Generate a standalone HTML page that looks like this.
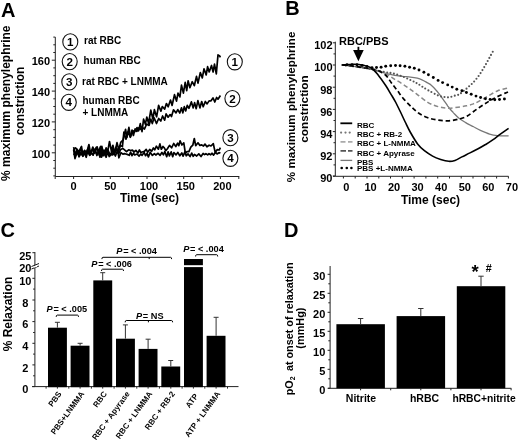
<!DOCTYPE html>
<html><head><meta charset="utf-8"><style>
html,body{margin:0;padding:0;background:#fff;}
svg{display:block;will-change:transform;}
text{font-family:"Liberation Sans",sans-serif;font-weight:bold;fill:#000;}
.ax{fill:none;stroke:#222;stroke-width:1;}
.tk{fill:none;stroke:#222;stroke-width:1;}
.circ{fill:none;stroke:#111;stroke-width:1.1;}
.trace path{fill:none;stroke:#000;stroke-width:1.7;stroke-linejoin:round;}
</style></head><body>
<svg width="520" height="442" viewBox="0 0 520 442">
<rect width="520" height="442" fill="#fff"/>
<text x="1" y="16.6" font-size="20">A</text>
<path d="M55.3,37.1 V176.5 H239.3" class="ax"/>
<path d="M55.3,175.9 h-2 M55.3,168.2 h-2 M55.3,160.5 h-2 M55.3,152.8 h-3.5 M55.3,145.1 h-2 M55.3,137.4 h-2 M55.3,129.7 h-2 M55.3,121.9 h-3.5 M55.3,114.2 h-2 M55.3,106.5 h-2 M55.3,98.8 h-2 M55.3,91.1 h-3.5 M55.3,83.4 h-2 M55.3,75.7 h-2 M55.3,67.9 h-2 M55.3,60.2 h-3.5 M55.3,52.5 h-2 M55.3,44.8 h-2 M55.3,37.1 h-2 M55.2,176.5 v2.5 M73.6,176.5 v2.5 M91.9,176.5 v2.5 M110.3,176.5 v2.5 M128.6,176.5 v2.5 M147,176.5 v2.5 M165.3,176.5 v2.5 M183.7,176.5 v2.5 M202,176.5 v2.5 M220.4,176.5 v2.5 M238.8,176.5 v2.5" class="tk"/>
<text x="50" y="157.6" font-size="11" text-anchor="end">100</text>
<text x="50" y="126.7" font-size="11" text-anchor="end">120</text>
<text x="50" y="95.9" font-size="11" text-anchor="end">140</text>
<text x="50" y="65" font-size="11" text-anchor="end">160</text>
<text x="73.6" y="189.9" font-size="11" text-anchor="middle">0</text>
<text x="110.3" y="189.9" font-size="11" text-anchor="middle">50</text>
<text x="149" y="189.9" font-size="11" text-anchor="middle">100</text>
<text x="185.7" y="189.9" font-size="11" text-anchor="middle">150</text>
<text x="222.4" y="189.9" font-size="11" text-anchor="middle">200</text>
<text x="149.5" y="201.5" font-size="12" text-anchor="middle">Time (sec)</text>
<text transform="translate(10,103.2) rotate(-90)" font-size="12" text-anchor="middle">% maximum phenylephrine</text>
<text transform="translate(24,101) rotate(-90)" font-size="12" text-anchor="middle">constriction</text>
<ellipse cx="70.3" cy="41.9" rx="7.5" ry="8.1" class="circ"/>
<text x="70.3" y="46" font-size="11.6" text-anchor="middle">1</text>
<ellipse cx="69.7" cy="61.6" rx="7.5" ry="8.1" class="circ"/>
<text x="69.7" y="65.7" font-size="11.6" text-anchor="middle">2</text>
<ellipse cx="69.3" cy="81.9" rx="7.5" ry="8.1" class="circ"/>
<text x="69.3" y="86" font-size="11.6" text-anchor="middle">3</text>
<ellipse cx="68.8" cy="102.3" rx="7.5" ry="8.1" class="circ"/>
<text x="68.8" y="106.4" font-size="11.6" text-anchor="middle">4</text>
<text x="84" y="44" font-size="10">rat RBC</text>
<text x="83.6" y="63.8" font-size="10">human RBC</text>
<text x="82" y="85" font-size="10">rat RBC + LNMMA</text>
<text x="82.5" y="103.5" font-size="10">human RBC</text>
<text x="82.5" y="116.1" font-size="10">+ LNMMA</text>
<ellipse cx="234.8" cy="61.8" rx="7.5" ry="8.1" class="circ"/>
<text x="234.8" y="65.9" font-size="11.6" text-anchor="middle">1</text>
<ellipse cx="232.4" cy="98.6" rx="7.5" ry="8.1" class="circ"/>
<text x="232.4" y="102.7" font-size="11.6" text-anchor="middle">2</text>
<ellipse cx="230.4" cy="137.7" rx="7.5" ry="8.1" class="circ"/>
<text x="230.4" y="141.8" font-size="11.6" text-anchor="middle">3</text>
<ellipse cx="230.4" cy="158.3" rx="7.5" ry="8.1" class="circ"/>
<text x="230.4" y="162.4" font-size="11.6" text-anchor="middle">4</text>
<g class="trace">
<path d="M73.6,153.5 L75.3,156 L76.9,149.4 L79,156.7 L80.5,153.8 L81.9,154.6 L84,151.2 L85.6,155.6 L87.7,151.2 L89.6,155 L91,152.8 L93.2,154.4 L94.8,150.1 L97,154.4 L98.6,151.7 L100,157.2 L101.3,153.5 L102.8,155.6 L104.4,150.6 L106.1,157.3 L107.6,152.1 L109.2,156.5 L110.5,154.3 L112.6,154.9 L114.2,153.4 L115.4,156 L117.7,150.2 L118.9,157.8 L121,152.7 L122.9,154.2 L124.3,153.6 L125.9,154 L127.2,154.4 L129.3,155.3 L130.6,152.1 L132,155.7 L133.5,153.1 L134.7,155 L137,154 L139.1,156.1 L140.8,153.9 L142.1,155.3 L144.2,152.5 L145.5,155.7 L147,153.4 L148.4,156.9 L150.2,152.2 L152.4,155.4 L154.4,153.7 L155.8,155 L158.1,153.3 L160.1,155.3 L161.9,152.5 L163.4,154.8 L164.8,151.5 L166.7,156.7 L168.1,151.8 L169.4,156 L171.2,151.9 L172.7,156.7 L173.9,152.5 L176,154.9 L177.8,152.4 L179.8,155.8 L181.8,152.9 L183.1,156.1 L184.8,152 L186.2,155.8 L188,153.9 L190.1,156.5 L191.7,153.1 L193.2,156.3 L194.5,154.4 L196.7,156 L198.8,153.9 L201,156.5 L203.1,153.5 L204.5,154.6 L205.9,153.7 L207.7,154.9 L209,153.7 L210.7,154.8 L212,153.2 L213.6,155.1 L215.5,152.3 L217.1,153.9 L219.3,152.6 L220.4,153.3"/>
<path d="M73.6,150.3 L75.5,147.9 L77,149.3 L79.1,153.5 L81,147.8 L82.9,155.4 L84.5,150.4 L86.5,152.1 L88.1,148.2 L90.3,153.9 L92.6,149.2 L94.3,153.2 L96.2,147.3 L98.3,151.5 L100.5,146.5 L102.4,154.9 L104,150.2 L105.3,151.7 L106.8,151.2 L108.5,152.8 L110,155 L111.9,154.2 L113.8,151.5 L115.3,152 L117,148.8 L118.9,153.4 L120.6,149.6 L122.8,148.4 L125.1,150.4 L126.5,151.7 L128.7,149.8 L130.5,150.5 L132.4,150.1 L133.9,152 L135.9,150.3 L137.9,153.1 L139.4,149.9 L140.7,152.4 L142.2,152 L144.4,151.4 L146.2,149.4 L147.6,152.2 L149.7,149.5 L151.7,151.2 L153.4,147.9 L154.7,149.9 L156.4,146.2 L158.4,149.2 L159.9,143.9 L161.3,149.2 L163,146.5 L164.3,147.9 L165.8,150.6 L167.4,148.7 L169.5,145.4 L171.6,147.8 L173.7,143.5 L175.8,146.5 L177.6,143.2 L178.8,145.7 L180.1,140.8 L181.9,145 L183.8,142.9 L185.4,153.5 L187,151.5 L188.9,151.6 L190.8,147.2 L192.8,145.2 L194.3,138.5 L195.7,145.7 L198,142.8 L199.9,145.4 L201.7,144.9 L203.5,146 L205,144.1 L206.9,146.8 L209.1,145.2 L211,146 L213.3,143.7 L215.2,152.4 L217.3,149.6 L219.2,150 L220.4,147.6"/>
<path d="M73.6,149.6 L75,158.6 L77.2,151.9 L79.2,156.5 L80.7,152.1 L82.9,156.3 L84.8,152.2 L86.2,157.3 L87.9,150.6 L89.9,155.3 L91.2,152.6 L93.1,155.2 L94.7,149.3 L96.9,155.5 L99.1,150 L101.5,157.1 L103.7,150.7 L105.6,154.4 L107.9,149.9 L110.3,155.5 L112.6,149.3 L114.2,154.5 L115.8,147.4 L118.1,152.8 L120.3,145.6 L122.4,146.6 L123.9,132.1 L126,139.2 L128.2,131.6 L130.3,137.3 L132,130.2 L133.4,135.5 L135.1,128.9 L136.9,131.4 L138.6,127.9 L140.1,129.4 L142.2,127.5 L144.5,129 L146.6,124.1 L149.1,125.4 L150.8,119.1 L152.3,123.6 L154.1,117.8 L156.5,123.5 L158.7,118.5 L160.8,121 L162.6,116 L164.6,120.2 L166.1,113.9 L168.1,117.2 L170.1,114.6 L171.5,116.6 L173.5,109.8 L176,112.9 L177.8,109.6 L179.8,113 L181.5,107.8 L182.8,112.9 L184.3,106.7 L185.7,110.9 L187.3,105.3 L189,108.3 L191.4,101.9 L193.2,107.9 L194.6,102.6 L196.2,108.7 L197.9,100.6 L199.9,107.9 L201.7,101.6 L203.2,106.8 L205.3,101.5 L207.1,103.9 L209.1,100.9 L210.8,101 L213,97.9 L214.8,102 L216.6,97.5 L218,99.2 L220.4,95.5"/>
<path d="M73.6,147.1 L75.2,153.7 L77.5,150.2 L79.3,151.1 L81.5,146.4 L82.8,155.7 L84.6,151.5 L86.8,152.5 L88.9,144.5 L90.7,154 L92.8,147.1 L95.2,152.2 L97.1,146.8 L99.5,155.5 L101.8,146.3 L103.9,155.7 L106.1,147.9 L107.6,152.2 L109.5,141.5 L111.5,151.5 L112.9,145.3 L114.7,153.4 L117,142.6 L118.8,150 L120.7,142.4 L123.2,139.9 L125.6,129.3 L126.9,137.4 L128.9,127.4 L130.5,136.8 L132.9,130.7 L134.7,131.8 L137,127.6 L138.6,130.8 L140.3,123.6 L142,131.6 L143.6,119.2 L145.4,124.2 L146.8,117.1 L148.6,123.2 L150.8,110.1 L152.9,119 L154.4,109.7 L156.6,116.8 L158.6,105.4 L160.9,111.2 L162.3,106.5 L164.7,109.1 L166.4,103.5 L168.2,106.8 L170.5,100 L172.1,105.4 L174.5,94.7 L176.5,101.1 L178,93.1 L179.9,96.9 L181.5,85.1 L183.4,93.1 L185.2,82.4 L186.7,90.6 L188.1,80.8 L189.9,87.7 L192.2,81.7 L194.3,85.7 L196.5,76.4 L198,83.1 L200.3,72.6 L202.3,77.9 L204,68.8 L206.2,74.9 L207.6,66.7 L209.2,72 L211.5,65.5 L213.1,72 L214.5,64.2 L216.3,73.9 L218,54.9 L219.7,56 L220.4,57.4"/>
</g>
<text x="285.2" y="15.1" font-size="20">B</text>
<path d="M335.3,41.7 V176.3 H508.5" class="ax"/>
<path d="M335.3,176 h-2.5 M335.3,164.9 h-1.8 M335.3,153.8 h-2.5 M335.3,142.7 h-1.8 M335.3,131.6 h-2.5 M335.3,120.5 h-1.8 M335.3,109.4 h-2.5 M335.3,98.3 h-1.8 M335.3,87.2 h-2.5 M335.3,76.1 h-1.8 M335.3,65 h-2.5 M335.3,53.9 h-1.8 M335.3,42.8 h-2.5 M335.3,176.3 h-2.3 M343.4,176.3 v2.2 M355.2,176.3 v2.2 M367,176.3 v2.2 M378.8,176.3 v2.2 M390.5,176.3 v2.2 M402.3,176.3 v2.2 M414.1,176.3 v2.2 M425.9,176.3 v2.2 M437.7,176.3 v2.2 M449.5,176.3 v2.2 M461.2,176.3 v2.2 M473,176.3 v2.2 M484.8,176.3 v2.2 M496.6,176.3 v2.2 M508.4,176.3 v2.2" class="tk"/>
<text x="332.5" y="182.3" font-size="11" text-anchor="end">90</text>
<text x="332.5" y="160.1" font-size="11" text-anchor="end">92</text>
<text x="332.5" y="137.9" font-size="11" text-anchor="end">94</text>
<text x="332.5" y="115.7" font-size="11" text-anchor="end">96</text>
<text x="332.5" y="93.5" font-size="11" text-anchor="end">98</text>
<text x="332.5" y="71.3" font-size="11" text-anchor="end">100</text>
<text x="332.5" y="49.1" font-size="11" text-anchor="end">102</text>
<text x="346.2" y="191.2" font-size="11" text-anchor="middle">0</text>
<text x="370.5" y="191.2" font-size="11" text-anchor="middle">10</text>
<text x="394" y="191.2" font-size="11" text-anchor="middle">20</text>
<text x="417.6" y="191.2" font-size="11" text-anchor="middle">30</text>
<text x="441.2" y="191.2" font-size="11" text-anchor="middle">40</text>
<text x="464.8" y="191.2" font-size="11" text-anchor="middle">50</text>
<text x="488.3" y="191.2" font-size="11" text-anchor="middle">60</text>
<text x="511.9" y="191.2" font-size="11" text-anchor="middle">70</text>
<text x="430.5" y="204" font-size="12" text-anchor="middle">Time (sec)</text>
<text x="339" y="44.6" font-size="11">RBC/PBS</text>
<path d="M358.4,46.8 V51" stroke="#000" stroke-width="1.8"/>
<path d="M353.1,49.9 H363.7 L358.4,61.2 Z" fill="#000"/>
<path d="M342.2,65 C344.2,65.2 350.4,65.8 354,66.3 C357.6,66.8 360.9,67.3 364,67.8 C367.1,68.3 370,68.8 372.7,69.5 C375.4,70.2 377.6,71 380,71.7 C382.4,72.4 384.4,73.1 386.8,73.7 C389.2,74.3 392.1,75 394.7,75.4 C397.3,75.8 400,76 402.6,76.3 C405.2,76.6 408.1,76.8 410.5,77.1 C412.9,77.4 415.4,77.8 417.3,78.2 C419.2,78.7 420.4,79.1 422,79.8 C423.6,80.5 425.5,81.7 427,82.6 C428.5,83.5 429.6,83.8 431,85 C432.4,86.2 434.3,88.2 435.7,89.8 C437.1,91.3 438.4,92.9 439.5,94.3 C440.6,95.7 441.1,96.6 442,97.9 C442.9,99.2 444,100.6 444.9,101.9 C445.8,103.2 446.8,104.6 447.6,105.8 C448.5,107 449.1,107.9 450,109 C450.9,110.1 451.8,111 453.3,112.6 C454.8,114.1 456.9,116.6 459,118.3 C461.1,120 463.9,121.5 465.7,122.6 C467.5,123.7 468.7,124.3 470,125 C471.3,125.7 471.9,125.9 473.6,126.8 C475.3,127.7 477.7,129.2 480.4,130.4 C483.1,131.6 486.7,133.2 489.6,134.1 C492.5,135 494.5,135.3 497.7,135.6 C500.9,135.9 506.8,135.8 508.6,135.9" fill="none" stroke="#777" stroke-width="1.3"/>
<path d="M342.2,65 C344.2,65.2 350.4,65.8 354,66.3 C357.6,66.8 361,67.3 364,67.8 C367,68.3 368.6,68.8 372,69.5 C375.4,70.2 381.1,71.4 384.5,72 C387.9,72.6 389.8,72.7 392.4,73.3 C395,73.9 397.6,74.6 400.4,75.6 C403.2,76.6 406.8,78.3 409.4,79.5 C412,80.7 414.2,81.8 416.2,82.9 C418.2,84 419.5,84.9 421.6,86.2 C423.7,87.5 425.8,88.9 428.6,90.5 C431.4,92.1 435.7,94.5 438.4,95.6 C441.1,96.7 443,96.8 444.9,97.1 C446.8,97.4 447.8,97.5 449.5,97.2 C451.2,97 453.4,96 455,95.6 C456.6,95.1 457.7,95.2 459,94.5 C460.3,93.8 461.5,92.7 463,91.5 C464.5,90.3 466.2,89 467.8,87.5 C469.4,86 471.2,84.6 472.9,82.8 C474.6,81 476.4,78.9 478,76.8 C479.6,74.7 481.1,72.3 482.5,70 C483.9,67.7 485.2,65.6 486.5,63.2 C487.8,60.8 489.2,58.2 490.5,55.8 C491.8,53.4 493.8,50 494.4,48.8" fill="none" stroke="#555" stroke-width="2.1" stroke-dasharray="0 3.5" stroke-linecap="round"/>
<path d="M342.2,65 C344.2,65.2 350.4,65.8 354,66.3 C357.6,66.8 361,67.3 364,67.8 C367,68.3 368.3,68.3 372,69.3 C375.7,70.3 382.3,72.4 386,74 C389.7,75.6 391.2,77.2 394,78.9 C396.8,80.6 400.2,82.5 403,84.3 C405.8,86.1 408.3,87.9 411,89.8 C413.7,91.7 416.3,93.8 419,95.8 C421.7,97.8 424.8,100.4 427.3,102 C429.8,103.6 431.6,104.4 434,105.3 C436.4,106.2 439.5,107 442,107.5 C444.5,108 446.3,108.2 449,108.2 C451.7,108.2 455.1,107.6 458,107.2 C460.9,106.8 464.1,106.3 466.5,105.8 C468.9,105.3 470.7,104.7 472.5,104.1 C474.3,103.5 474.9,103.4 477.4,102.1 C479.9,100.8 484.2,98.3 487.6,96.4 C491,94.5 494.4,92.1 497.8,90.7 C501.2,89.3 506.3,88.4 508,87.9" fill="none" stroke="#888" stroke-width="1.5" stroke-dasharray="4.5 2.8"/>
<path d="M342.2,65 C344.2,65.2 350.4,65.8 354,66.3 C357.6,66.8 361,67.3 364,67.8 C367,68.2 369.7,68.5 372,69 C374.3,69.5 375.7,69.4 378,70.5 C380.3,71.6 383.8,73.5 386,75.5 C388.2,77.5 389.5,80.3 391.3,82.7 C393.1,85.1 394.9,87.4 397,90.1 C399.1,92.8 401.3,96.2 403.8,99.1 C406.3,102 409.6,105.2 412,107.5 C414.4,109.8 416,111.3 418.5,113 C421,114.7 424.1,116.3 427.2,117.5 C430.3,118.7 433.8,119.5 437.4,120 C441,120.5 445.2,121 449,120.8 C452.8,120.6 456.9,119.6 460,118.8 C463.1,118 464.4,117.7 467.3,116 C470.2,114.3 474,111.1 477.4,108.8 C480.8,106.5 484.4,104.1 487.6,102.1 C490.8,100.1 493.3,98.7 496.7,97 C500.1,95.3 506.1,92.8 508,91.9" fill="none" stroke="#000" stroke-width="1.7" stroke-dasharray="4.5 2.8"/>
<path d="M342.2,64.9 C344.2,64.8 350.4,64.1 354,64.2 C357.6,64.3 360.9,64.8 363.8,65.4 C366.7,66 369,66.4 371.4,68 C373.8,69.6 375.7,72 378.1,74.9 C380.5,77.8 383.5,82.2 385.7,85.5 C387.9,88.8 389.6,92 391.3,94.8 C393,97.6 394.4,99.8 395.8,102.5 C397.2,105.2 398.4,107.8 400,111 C401.6,114.2 403.5,118.5 405.2,122 C406.9,125.5 408.1,128.3 410.2,132 C412.3,135.7 415.2,140.8 417.6,143.9 C420,147 421.9,148.7 424.4,150.7 C426.9,152.7 429.9,154.6 432.6,156.1 C435.3,157.6 438,158.6 440.7,159.5 C443.4,160.4 446.4,161.2 448.8,161.3 C451.2,161.5 452.8,161.1 455,160.4 C457.2,159.7 459.4,158.2 461.9,156.9 C464.4,155.7 467.3,154.2 470,152.9 C472.7,151.6 475.4,150.2 478.1,148.8 C480.8,147.4 483.6,145.7 486.1,144.2 C488.6,142.7 490.8,141.2 493.1,139.6 C495.4,138 497.4,136.3 500,134.4 C502.6,132.5 507.2,129.3 508.6,128.3" fill="none" stroke="#000" stroke-width="1.6"/>
<circle cx="347" cy="64.8" r="1.45"/><circle cx="352" cy="64.6" r="1.45"/><circle cx="357" cy="64.8" r="1.45"/><circle cx="362" cy="65.5" r="1.45"/><circle cx="367" cy="66.5" r="1.45"/><circle cx="372" cy="67.6" r="1.45"/><circle cx="376.5" cy="67.5" r="1.45"/><circle cx="381.1" cy="67.2" r="1.45"/><circle cx="385.7" cy="66.3" r="1.45"/><circle cx="390.7" cy="65.7" r="1.45"/><circle cx="395.5" cy="65.5" r="1.45"/><circle cx="400.1" cy="65.7" r="1.45"/><circle cx="404.9" cy="66.3" r="1.45"/><circle cx="409.6" cy="67.2" r="1.45"/><circle cx="414.3" cy="68.3" r="1.45"/><circle cx="419" cy="70" r="1.45"/><circle cx="423.9" cy="72.2" r="1.45"/><circle cx="428.4" cy="74.8" r="1.45"/><circle cx="433.3" cy="77.5" r="1.45"/><circle cx="438.1" cy="80.4" r="1.45"/><circle cx="442.6" cy="82.6" r="1.45"/><circle cx="447.7" cy="84.9" r="1.45"/><circle cx="452.2" cy="87.1" r="1.45"/><circle cx="456.8" cy="89.2" r="1.45"/><circle cx="461.9" cy="90.8" r="1.45"/><circle cx="466.4" cy="92.5" r="1.45"/><circle cx="471.2" cy="94.2" r="1.45"/><circle cx="476" cy="96.1" r="1.45"/><circle cx="480.6" cy="97.5" r="1.45"/><circle cx="485.4" cy="98.7" r="1.45"/><circle cx="490.1" cy="99.5" r="1.45"/><circle cx="494.8" cy="99.8" r="1.45"/><circle cx="499.5" cy="99.5" r="1.45"/><circle cx="504.4" cy="99" r="1.45"/>
<path d="M340.4,123.3 H352.2" stroke="#000" stroke-width="1.8"/>
<circle cx="341.1" cy="132.6" r="1.1" fill="#777"/><circle cx="345.5" cy="132.6" r="1.1" fill="#777"/><circle cx="349.7" cy="132.6" r="1.1" fill="#777"/>
<path d="M340.5,141.8 H345.5 M348,141.8 H352.5" stroke="#aaa" stroke-width="1.7"/>
<path d="M340.5,150.9 H346 M348,150.9 H352.5" stroke="#555" stroke-width="1.6"/>
<path d="M340.5,160.4 H352.2" stroke="#777" stroke-width="1.3"/>
<circle cx="341.7" cy="168" r="1.3"/><circle cx="346.8" cy="168" r="1.3"/><circle cx="351.4" cy="168" r="1.3"/>
<text x="357" y="127.8" font-size="8">RBC</text>
<text x="357" y="137.2" font-size="8">RBC + RB-2</text>
<text x="357" y="146.4" font-size="8">RBC + L-NMMA</text>
<text x="357" y="155.6" font-size="8">RBC + Apyrase</text>
<text x="357" y="164.6" font-size="8">PBS</text>
<text x="357" y="171.3" font-size="8">PBS +L-NMMA</text>
<text transform="translate(295.2,106.9) rotate(-90)" font-size="11.63" text-anchor="middle">% maximum phenylephrine</text>
<text transform="translate(308.4,109) rotate(-90)" font-size="11.8" text-anchor="middle">constriction</text>
<text x="0.5" y="237.3" font-size="20">C</text>
<path d="M34.9,252 V386.6" class="ax"/>
<path d="M32,386.6 H238.5" class="ax"/>
<path d="M34.9,386.6 h-2.5 M34.9,375.8 h-1.8 M34.9,364.9 h-2.5 M34.9,354.1 h-1.8 M34.9,343.3 h-2.5 M34.9,332.5 h-1.8 M34.9,321.6 h-2.5 M34.9,310.8 h-1.8 M34.9,300 h-2.5 M34.9,289.1 h-1.8 M34.9,278.3 h-2.5 M34.9,252.7 h-2.5" class="tk"/>
<path d="M31.5,266.5 L39,263.5 M31.5,269 L39,266" stroke="#000" stroke-width="0.9"/>
<path d="M34,267 L37,266" stroke="#fff" stroke-width="1.6"/>
<text x="25.3" y="393.2" font-size="11" text-anchor="middle">0</text>
<text x="25.3" y="371.5" font-size="11" text-anchor="middle">2</text>
<text x="25.3" y="349.9" font-size="11" text-anchor="middle">4</text>
<text x="25.3" y="328.2" font-size="11" text-anchor="middle">6</text>
<text x="25.3" y="306.6" font-size="11" text-anchor="middle">8</text>
<text x="25.3" y="284.9" font-size="11" text-anchor="middle">10</text>
<text x="25.3" y="272.3" font-size="11" text-anchor="middle">20</text>
<text x="25.3" y="260.1" font-size="11" text-anchor="middle">25</text>
<text transform="translate(11.8,314) rotate(-90)" font-size="12" text-anchor="middle">% Relaxation</text>
<rect x="48" y="327.7" width="18.9" height="59.5" fill="#000"/>
<path d="M57.4,327.7 V322.3 M54.9,322.3 h5" stroke="#333" stroke-width="1"/>
<text transform="translate(62,393.9) rotate(-54)" font-size="8" text-anchor="end">PBS</text>
<rect x="70.6" y="345.7" width="18.9" height="41.5" fill="#000"/>
<path d="M80.1,345.7 V343.3 M77.6,343.3 h5" stroke="#333" stroke-width="1"/>
<text transform="translate(84.7,393.9) rotate(-54)" font-size="8" text-anchor="end">PBS+LNMMA</text>
<rect x="93.3" y="280.4" width="18.9" height="106.8" fill="#000"/>
<path d="M102.7,280.4 V272.7 M100.2,272.7 h5" stroke="#333" stroke-width="1"/>
<text transform="translate(107.3,393.9) rotate(-54)" font-size="8" text-anchor="end">RBC</text>
<rect x="116" y="338.7" width="18.9" height="48.5" fill="#000"/>
<path d="M125.4,338.7 V324.9 M122.9,324.9 h5" stroke="#333" stroke-width="1"/>
<text transform="translate(130,393.9) rotate(-54)" font-size="8" text-anchor="end">RBC + Apyrase</text>
<rect x="138.6" y="348.9" width="18.9" height="38.3" fill="#000"/>
<path d="M148.1,348.9 V339.2 M145.6,339.2 h5" stroke="#333" stroke-width="1"/>
<text transform="translate(152.7,393.9) rotate(-54)" font-size="8" text-anchor="end">RBC + LNMMA</text>
<rect x="161.3" y="366.5" width="18.9" height="20.7" fill="#000"/>
<path d="M170.8,366.5 V360.5 M168.2,360.5 h5" stroke="#333" stroke-width="1"/>
<text transform="translate(175.3,393.9) rotate(-54)" font-size="8" text-anchor="end">RBC + RB-2</text>
<rect x="184" y="259" width="18.9" height="128.2" fill="#000"/>
<text transform="translate(198.6,396.1) rotate(-54)" font-size="8" text-anchor="end">ATP</text>
<rect x="206.6" y="335.8" width="18.9" height="51.4" fill="#000"/>
<path d="M216.1,335.8 V317.3 M213.6,317.3 h5" stroke="#333" stroke-width="1"/>
<text transform="translate(220.7,393.9) rotate(-54)" font-size="8" text-anchor="end">ATP + LNMMA</text>
<path d="M46.1,386.6 v2 M68.8,386.6 v2 M91.4,386.6 v2 M114.1,386.6 v2 M136.8,386.6 v2 M159.4,386.6 v2 M182.1,386.6 v2 M204.8,386.6 v2 M227.5,386.6 v2 M57.4,386.6 v2 M80.1,386.6 v2 M102.7,386.6 v2 M125.4,386.6 v2 M148.1,386.6 v2 M170.8,386.6 v2 M193.4,386.6 v2 M216.1,386.6 v2" class="tk"/>
<rect x="183" y="265.2" width="21" height="1.9" fill="#fff"/>
<path d="M56.2,316.9 Q56.2,315.1 57.2,315.1 H77.5 Q78.5,315.1 78.5,316.9" fill="none" stroke="#000" stroke-width="1"/>
<path d="M101.5,271 Q101.5,269.2 102.5,269.2 H122.5 Q123.5,269.2 123.5,271" fill="none" stroke="#000" stroke-width="1"/>
<path d="M101.9,259.1 Q101.9,257.3 102.9,257.3 H170.6 Q171.6,257.3 171.6,259.1 M149.2,257.3 v1.8" fill="none" stroke="#000" stroke-width="1"/>
<path d="M125.2,322.3 Q125.2,320.5 126.2,320.5 H171.6 Q172.6,320.5 172.6,322.3 M148.4,320.5 v1.8" fill="none" stroke="#000" stroke-width="1"/>
<path d="M195.6,256.5 Q195.6,254.7 196.6,254.7 H216.7 Q217.7,254.7 217.7,256.5" fill="none" stroke="#000" stroke-width="1"/>
<text x="46.6" y="311.6" font-size="9.2"><tspan font-style="italic">P</tspan><tspan dx="0.7">= &lt; .005</tspan></text>
<text x="91.3" y="267.3" font-size="9.2"><tspan font-style="italic">P</tspan><tspan dx="0.7">= &lt; .006</tspan></text>
<text x="116.3" y="253.6" font-size="9.2"><tspan font-style="italic">P</tspan><tspan dx="0.7">= &lt; .004</tspan></text>
<text x="183.2" y="251.9" font-size="9.2"><tspan font-style="italic">P</tspan><tspan dx="0.7">= &lt; .004</tspan></text>
<text x="136" y="318.8" font-size="9.2"><tspan font-style="italic">P</tspan><tspan dx="0.7">= NS</tspan></text>
<text x="284" y="236.6" font-size="20">D</text>
<path d="M330.1,266 V388.3" class="ax"/>
<path d="M328,388.3 H511.3" class="ax"/>
<path d="M330.1,388.3 h-2.5 M330.1,378.8 h-1.8 M330.1,369.3 h-2.5 M330.1,359.8 h-1.8 M330.1,350.3 h-2.5 M330.1,340.8 h-1.8 M330.1,331.3 h-2.5 M330.1,321.8 h-1.8 M330.1,312.3 h-2.5 M330.1,302.8 h-1.8 M330.1,293.3 h-2.5 M330.1,283.8 h-1.8 M330.1,274.3 h-2.5 M360.6,388.3 v2 M390.7,388.3 v2 M420.8,388.3 v2 M450.9,388.3 v2 M481,388.3 v2 M511.1,388.3 v2" class="tk"/>
<text x="325.3" y="394.3" font-size="11" text-anchor="end">0</text>
<text x="325.3" y="375.3" font-size="11" text-anchor="end">5</text>
<text x="325.3" y="356.3" font-size="11" text-anchor="end">10</text>
<text x="325.3" y="337.3" font-size="11" text-anchor="end">15</text>
<text x="325.3" y="318.3" font-size="11" text-anchor="end">20</text>
<text x="325.3" y="299.3" font-size="11" text-anchor="end">25</text>
<text x="325.3" y="280.3" font-size="11" text-anchor="end">30</text>
<rect x="336.4" y="324.2" width="48.5" height="64.1" fill="#000"/>
<path d="M360.6,324.2 V318.5 M357.9,318.5 h5.4" stroke="#333" stroke-width="1"/>
<rect x="396.6" y="316.1" width="48.5" height="72.2" fill="#000"/>
<path d="M420.8,316.1 V308.5 M418.1,308.5 h5.4" stroke="#333" stroke-width="1"/>
<rect x="456.8" y="286.2" width="48.5" height="102.1" fill="#000"/>
<path d="M481,286.2 V276.2 M478.3,276.2 h5.4" stroke="#333" stroke-width="1"/>
<text x="361" y="401.9" font-size="10.5" text-anchor="middle">Nitrite</text>
<text x="424.5" y="401.9" font-size="10.5" text-anchor="middle">hRBC</text>
<text x="484" y="401.9" font-size="10.3" text-anchor="middle">hRBC+nitrite</text>
<text x="475.1" y="278.3" font-size="18.5" text-anchor="middle">*</text>
<text x="488.7" y="272.2" font-size="10.8" text-anchor="middle">#</text>
<text transform="translate(292.6,395.3) rotate(-90)" font-size="10.8">pO<tspan font-size="7" dy="2.5">2</tspan><tspan dy="-2.5" dx="2.3">  at onset of relaxation</tspan></text>
<text transform="translate(303.5,328.1) rotate(-90)" font-size="10.9" text-anchor="middle">(mmHg)</text>
</svg>
</body></html>
